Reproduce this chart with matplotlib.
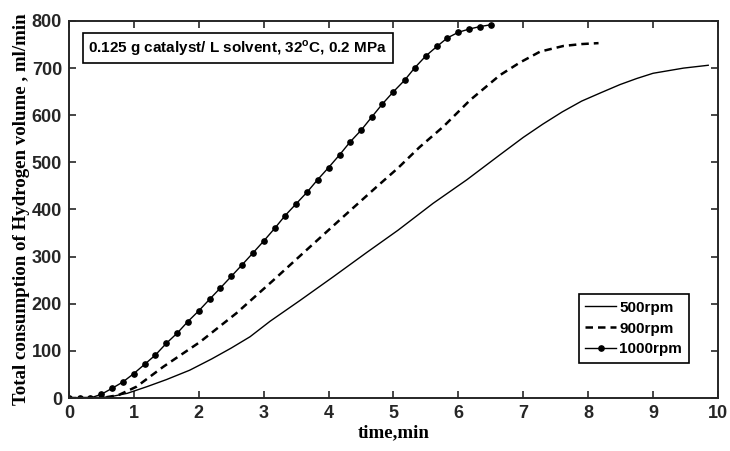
import numpy as np
import matplotlib.pyplot as plt

# 500 rpm
t_500 = [0, 0.4, 0.65, 0.9, 1.2, 1.5, 1.86, 2.2, 2.5, 2.79, 3.1, 3.56, 4.07,
         4.59, 5.07, 5.61, 6.13, 6.64, 7.0, 7.3, 7.6, 7.9, 8.2, 8.49, 8.75,
         9.0, 9.47, 9.85]
v_500 = [0, 0, 3, 10, 24, 39, 59, 83, 106, 130, 163, 207, 257,
         309, 356, 413, 463, 516, 553, 581, 607, 630, 648, 665, 678,
         689, 700, 706]

# 900 rpm
t_900 = [0, 0.5, 0.76, 1.04, 1.45, 2.02, 2.58, 3.15, 3.66, 4.23, 4.74, 5.07,
         5.4, 5.77, 6.18, 6.64, 6.95, 7.26, 7.62, 7.9, 8.16]
v_900 = [0, 0, 6, 24, 66, 119, 180, 250, 314, 385, 448, 488,
         532, 576, 632, 685, 712, 735, 747, 751, 753]

# 1000 rpm (one sample every 10 s)
t_1000 = [0.0, 0.17, 0.33, 0.5, 0.67, 0.83, 1.0, 1.17, 1.33, 1.5,
          1.67, 1.83, 2.0, 2.17, 2.33, 2.5, 2.67, 2.83, 3.0, 3.17,
          3.33, 3.5, 3.67, 3.83, 4.0, 4.17, 4.33, 4.5, 4.67, 4.83,
          5.0, 5.17, 5.33, 5.5, 5.67, 5.83, 6.0, 6.17, 6.33, 6.5]
v_1000 = [0, 0, 0, 8, 21, 34, 52, 72, 91, 116,
          138, 162, 185, 210, 233, 258, 283, 307, 333, 360,
          387, 412, 437, 463, 489, 516, 543, 568, 597, 624,
          650, 674, 701, 726, 746, 764, 776, 783, 788, 792]

x_ticks = list(range(0, 11))
y_ticks = list(range(0, 801, 100))

plt.rcParams['font.family'] = ['Liberation Sans', 'DejaVu Sans']
plt.rcParams['mathtext.fontset'] = 'custom'
plt.rcParams['mathtext.bf'] = 'Liberation Sans:bold'

dark = '#262626'

fig = plt.figure(figsize=(7.3, 4.51), dpi=100)
ax = fig.add_axes([0.0945, 0.1175, 0.889, 0.836])

ax.plot(t_500, v_500, color='black', lw=1.0, label='500rpm')
ax.plot(t_900, v_900, color='black', lw=1.8, linestyle=(0, (3, 2)), label='900rpm')
ax.plot(t_1000, v_1000, color='black', lw=1.0, marker='o', markersize=3.8,
        label='1000rpm')

ax.set_xlim(0, 10)
ax.set_ylim(0, 800)
ax.set_xticks(x_ticks)
ax.set_yticks(y_ticks)
ax.tick_params(direction='in', length=5, width=1.2, top=True, right=True,
               labelsize=13, colors=dark, labelcolor=dark, pad=5)
for lab in ax.get_xticklabels() + ax.get_yticklabels():
    lab.set_fontweight('bold')
for sp in ax.spines.values():
    sp.set_linewidth(1.4)
    sp.set_color(dark)

ax.set_xlabel('time,min', family='Liberation Serif', fontweight='bold',
              fontsize=13.6, labelpad=2)
ax.set_ylabel('Total consumption of Hydrogen volume , ml/min',
              family='Liberation Serif', fontweight='bold', fontsize=13.6,
              labelpad=1)

ax.text(0.0297, 0.954, r'0.125 g catalyst/ L solvent, 32$^{\mathbf{o}}$C, 0.2 MPa',
        transform=ax.transAxes, fontsize=11, fontweight='bold', va='top',
        ha='left',
        bbox=dict(boxstyle='square,pad=0.35', facecolor='white',
                  edgecolor='black', linewidth=1.2))

leg = ax.legend(loc='lower right', bbox_to_anchor=(0.955, 0.092),
                borderaxespad=0, fancybox=False, framealpha=1,
                edgecolor='black', prop={'weight': 'bold', 'size': 11},
                handlelength=2.0, handletextpad=0.2, labelspacing=0.45,
                borderpad=0.45)
leg.get_frame().set_linewidth(1.2)

fig.savefig('out.png', dpi=100)
